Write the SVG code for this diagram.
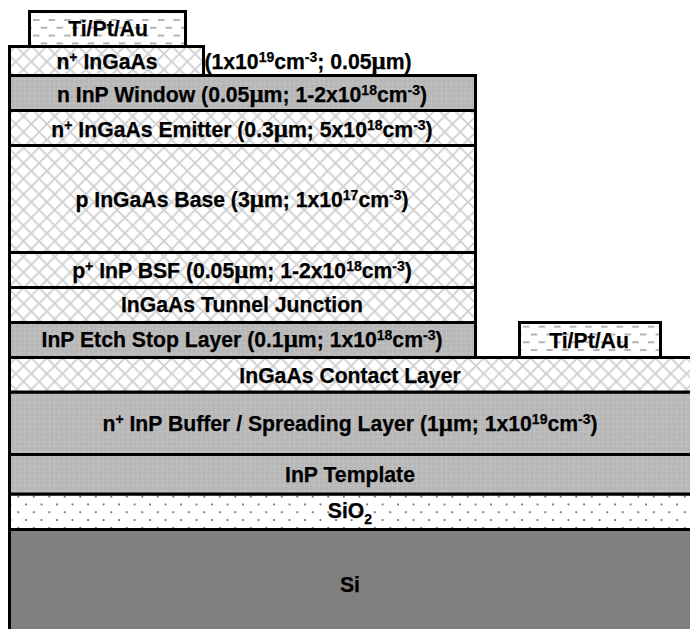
<svg xmlns="http://www.w3.org/2000/svg" width="690" height="629" viewBox="0 0 690 629">
<style>
.l{stroke:#000;stroke-width:3}
.x{fill:url(#cross)}
.g{fill:url(#grid)}
.t{fill:url(#dash)}
.t2{fill:url(#dash2)}
.s{fill:url(#dots)}
text{font-family:"Liberation Sans",Arial,sans-serif;font-weight:bold;font-size:21.2px;fill:#000;stroke:#000;stroke-width:.25;text-anchor:middle}
.m{font-family:"Liberation Serif","Times New Roman",serif;font-size:25px}
.u{font-size:14px}
</style>
<defs>
<pattern id="cross" width="15.6" height="15.6" patternUnits="userSpaceOnUse" x="15.7" y="155.3"><rect width="15.6" height="15.6" fill="#fff"/><path d="M0 0L15.6 15.6M15.6 0L0 15.6" stroke="#cfcfcf" stroke-width="1.8" fill="none"/></pattern>
<pattern id="grid" width="4.9" height="4.9" patternUnits="userSpaceOnUse"><rect width="4.9" height="4.9" fill="#b6b6b6"/><path d="M0 .5H4.9M.5 0V4.9" stroke="#c0c0c0" stroke-width="1" fill="none"/></pattern>
<pattern id="dash" width="15.6" height="15.6" patternUnits="userSpaceOnUse" x="33" y="19"><rect width="15.6" height="15.6" fill="#fff"/><path d="M0 1H6.5M7.8 8.8H14.3" stroke="#999" stroke-width="1.3" fill="none"/></pattern>
<pattern id="dash2" width="15.6" height="15.6" patternUnits="userSpaceOnUse" x="523" y="325.7"><rect width="15.6" height="15.6" fill="#fff"/><path d="M0 1H6.5M7.8 8.8H14.3" stroke="#999" stroke-width="1.3" fill="none"/></pattern>
<pattern id="dots" width="15.5" height="15.6" patternUnits="userSpaceOnUse" x="16.3" y="494.7"><rect width="15.5" height="15.6" fill="#fff"/><circle cx="2" cy="2" r=".95" fill="#555"/><circle cx="9.75" cy="9.8" r=".95" fill="#555"/></pattern>
</defs>
<g id="connectors"></g>
<g id="si"><rect class="l" x="9.5" y="529.5" width="690" height="110" fill="#808080"/><text x="350" y="592">Si</text></g>
<g id="sio2"><rect class="l s" x="9.5" y="494" width="690" height="35.5"/><text x="350" y="518">SiO<tspan class="u" dy="6">2</tspan></text></g>
<g id="template"><rect class="l g" x="9.5" y="454.5" width="690" height="39.5"/><text x="350" y="482">InP Template</text></g>
<g id="buffer"><rect class="l g" x="9.5" y="392" width="690" height="62.5"/><text x="350" y="431">n<tspan class="u" dy="-7">+</tspan><tspan dy="7"> InP Buffer / Spreading Layer (1</tspan><tspan class="m">μ</tspan>m; 1x10<tspan class="u" dy="-7">19</tspan><tspan dy="7">cm</tspan><tspan class="u" dy="-7">-3</tspan><tspan dy="7">)</tspan></text></g>
<g id="contact"><rect class="l x" x="9.5" y="357.5" width="690" height="34.5"/><text x="350" y="383">InGaAs Contact Layer</text></g>
<g id="etch"><rect class="l g" x="9.5" y="322.5" width="466" height="35"/><text x="242" y="347">InP Etch Stop Layer (0.1<tspan class="m">μ</tspan>m; 1x10<tspan class="u" dy="-7">18</tspan><tspan dy="7">cm</tspan><tspan class="u" dy="-7">-3</tspan><tspan dy="7">)</tspan></text></g>
<g id="tunnel"><rect class="l x" x="9.5" y="287.5" width="466" height="35"/><text x="242" y="312">InGaAs Tunnel Junction</text></g>
<g id="bsf"><rect class="l x" x="9.5" y="252.5" width="466" height="35"/><text x="242" y="278">p<tspan class="u" dy="-7">+</tspan><tspan dy="7"> InP BSF (0.05</tspan><tspan class="m">μ</tspan>m; 1-2x10<tspan class="u" dy="-7">18</tspan><tspan dy="7">cm</tspan><tspan class="u" dy="-7">-3</tspan><tspan dy="7">)</tspan></text></g>
<g id="base"><rect class="l x" x="9.5" y="145.5" width="466" height="107"/><text x="242" y="207">p InGaAs Base (3<tspan class="m">μ</tspan>m; 1x10<tspan class="u" dy="-7">17</tspan><tspan dy="7">cm</tspan><tspan class="u" dy="-7">-3</tspan><tspan dy="7">)</tspan></text></g>
<g id="emitter"><rect class="l x" x="9.5" y="110.5" width="466" height="35"/><text x="242" y="137">n<tspan class="u" dy="-7">+</tspan><tspan dy="7"> InGaAs Emitter (0.3</tspan><tspan class="m">μ</tspan>m; 5x10<tspan class="u" dy="-7">18</tspan><tspan dy="7">cm</tspan><tspan class="u" dy="-7">-3</tspan><tspan dy="7">)</tspan></text></g>
<g id="window"><rect class="l g" x="9.5" y="75.5" width="466" height="35"/><text x="242" y="102">n InP Window (0.05<tspan class="m">μ</tspan>m; 1-2x10<tspan class="u" dy="-7">18</tspan><tspan dy="7">cm</tspan><tspan class="u" dy="-7">-3</tspan><tspan dy="7">)</tspan></text></g>
<g id="cap"><rect class="l x" x="9.5" y="46.5" width="194" height="29"/><text x="107" y="69">n<tspan class="u" dy="-7">+</tspan><tspan dy="7"> InGaAs</tspan></text></g>
<g id="cap-label"><text x="308" y="69">(1x10<tspan class="u" dy="-7">19</tspan><tspan dy="7">cm</tspan><tspan class="u" dy="-7">-3</tspan><tspan dy="7">; 0.05</tspan><tspan class="m">μ</tspan>m)</text></g>
<g id="metal-top"><rect class="l t" x="29.5" y="11.5" width="156" height="35"/><text x="108" y="36">Ti/Pt/Au</text></g>
<g id="metal-right"><rect class="l t2" x="519.5" y="322.5" width="141" height="35"/><text x="589" y="348">Ti/Pt/Au</text></g>
</svg>
